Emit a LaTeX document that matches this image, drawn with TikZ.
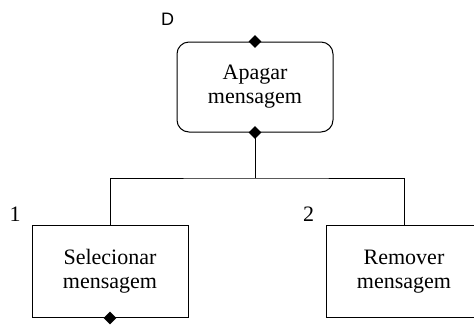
\documentclass[tikz,border=0pt]{standalone}
\usepackage{fontspec}
\setmainfont{Liberation Serif}
\newfontfamily\labelsans{Liberation Sans}
\usetikzlibrary{shapes.geometric}
\begin{document}
\begin{tikzpicture}[x=1pt,y=1pt,
  every node/.style={inner sep=0pt},
  task/.style={draw=black, line width=1pt, minimum width=156pt, minimum height=92pt,
    align=center, font=\fontsize{22}{24}\selectfont},
  roottask/.style={task, rounded corners=12pt, minimum height=90pt},
  joint/.style={diamond, fill=black, minimum width=13pt, minimum height=13pt},
  numlabel/.style={font=\fontsize{22}{24}\selectfont},
  link/.style={draw=black, line width=1pt}]
  \clip (0,0) rectangle (474,-325);
  \fill[white] (0,0) rectangle (474,-325);

  % root task
  \node[roottask] (top) at (255,-87) {Apagar\\mensagem};
  \node[font=\labelsans\fontsize{18}{20}\selectfont] (lblD) at (167.5,-19) {D};

  % subtasks
  \node[task] (n1) at (110,-271.5) {Selecionar\\mensagem};
  \node[task] (n2) at (404,-271.5) {Remover\\mensagem};
  \node[numlabel] (lbl1) at (15,-214.5) {1};
  \node[numlabel] (lbl2) at (308.5,-214.5) {2};

  % decomposition tree
  \coordinate (bus) at (255,-178);
  \draw[link] (top.south) -- (bus);
  \draw[link] (n1.north) |- (bus) -| (n2.north);

  % joint markers
  \node[joint] (jtop) at (top.north) {};
  \node[joint] (jbot) at (top.south) {};
  \node[joint] (j1) at (n1.south) {};
\end{tikzpicture}
\end{document}
